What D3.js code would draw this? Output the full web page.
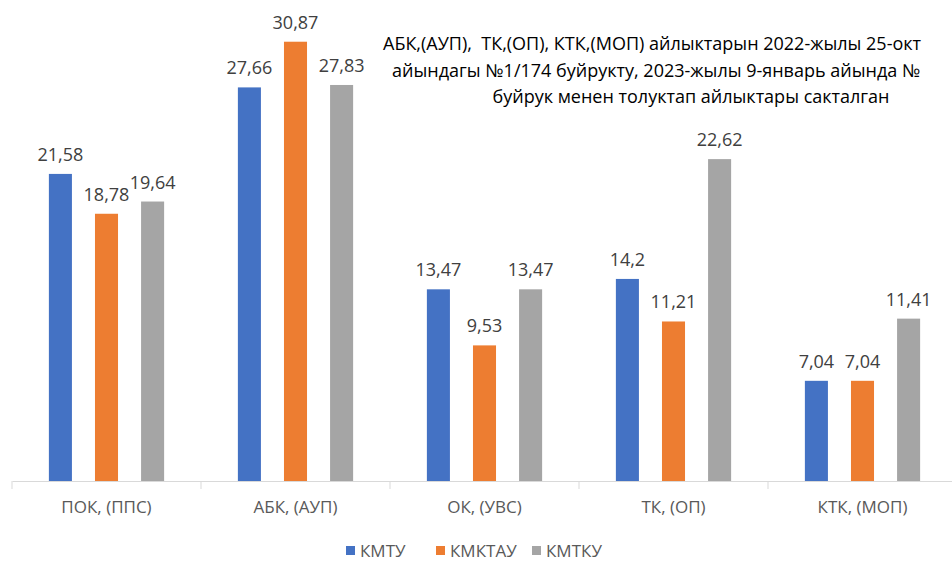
<!DOCTYPE html>
<html>
<head>
<meta charset="utf-8">
<script src="https://cdn.jsdelivr.net/npm/d3@7"></script>
<style>
	body { margin: 0; background: #fff; overflow: hidden; }
	svg { font-family: "Open Sans", sans-serif; }
</style>
</head>
<body>
<div id="chart"></div>
<script>
var categories = ["ПОК, (ППС)", "АБК, (АУП)", "ОК, (УВС)", "ТК, (ОП)", "КТК, (МОП)"];
var seriesNames = ["КМТУ", "КМКТАУ", "КМТКУ"];
var kmtu = [21.58, 27.66, 13.47, 14.2, 7.04];
var kmktau = [18.78, 30.87, 9.53, 11.21, 7.04];
var kmtku = [19.64, 27.83, 13.47, 22.62, 11.41];
// only the part of the title visible in the picture
var titleLines = [
	"АБК,(АУП),  ТК,(ОП), КТК,(МОП) айлыктарын 2022-жылы 25-окт",
	"айындагы №1/174 буйрукту, 2023-жылы 9-январь айында №",
	"буйрук менен толуктап айлыктары сакталган"
];

var width = 952;
var height = 564;
var baseY = 481;

var colors = ["#4472C4", "#ED7D31", "#A5A5A5"];
var seriesValues = [kmtu, kmktau, kmtku];

var svg = d3.select('#chart')
	.append('svg')
	.attr('width', width)
	.attr('height', height);

var x0 = d3.scaleBand()
	.domain(categories)
	.range([12, 12 + 5 * 189]);

var x1 = d3.scaleBand()
	.domain(seriesNames)
	.range([0, x0.bandwidth()])
	.paddingInner(0.5)
	.paddingOuter(0.8);

var y = d3.scaleLinear()
	.domain([0, 35])
	.range([baseY, baseY - 35 * 14.23]);

// axis
var xAxis = d3.axisBottom(x0).tickSize(0).tickFormat('');
var axisG = svg.append('g')
	.attr('transform', 'translate(0,' + baseY + ')')
	.call(xAxis);
axisG.select('.domain').attr('stroke', '#d9d9d9');

var bounds = categories.map(function(c) { return x0(c); });
svg.selectAll('.tick-mark')
	.data(bounds)
	.enter()
	.append('line')
	.attr('x1', function(d) { return d; })
	.attr('x2', function(d) { return d; })
	.attr('y1', baseY)
	.attr('y2', baseY + 8)
	.attr('stroke', '#d9d9d9');

svg.selectAll('.cat-label')
	.data(categories)
	.enter()
	.append('text')
	.attr('x', function(d) { return x0(d) + x0.bandwidth() / 2; })
	.attr('y', 513)
	.attr('text-anchor', 'middle')
	.attr('font-size', 17)
	.attr('fill', '#595959')
	.text(function(d) { return d; });

// bars
seriesNames.forEach(function(name, s) {
	var vals = seriesValues[s];
	var g = svg.append('g');
	g.selectAll('rect')
		.data(vals)
		.enter()
		.append('rect')
		.attr('x', function(d, i) { return x0(categories[i]) + x1(name); })
		.attr('y', function(d) { return y(d); })
		.attr('width', x1.bandwidth())
		.attr('height', function(d) { return baseY - y(d); })
		.attr('fill', colors[s]);

	g.selectAll('text')
		.data(vals)
		.enter()
		.append('text')
		.attr('x', function(d, i) { return x0(categories[i]) + x1(name) + x1.bandwidth() / 2; })
		.attr('y', function(d) { return y(d) - 13; })
		.attr('text-anchor', 'middle')
		.attr('font-size', 18)
		.attr('fill', '#404040')
		.text(function(d) { return String(d).replace('.', ','); });
});

// title (first two lines run off the right edge in the original)
var titleX = [383, 392, 691];
var titleAnchor = ['start', 'start', 'middle'];
svg.append('text')
	.attr('font-size', 18)
	.attr('fill', '#000')
	.style('white-space', 'pre')
	.selectAll('tspan')
	.data(titleLines)
	.enter()
	.append('tspan')
	.attr('x', function(d, i) { return titleX[i]; })
	.attr('y', function(d, i) { return 50 + i * 26.5; })
	.attr('text-anchor', function(d, i) { return titleAnchor[i]; })
	.text(function(d) { return d; });

// legend
var legendX = [346, 436, 532];
var legend = svg.selectAll('.legend')
	.data(seriesNames)
	.enter()
	.append('g')
	.attr('class', 'legend')
	.attr('transform', function(d, i) { return 'translate(' + legendX[i] + ',546)'; });

legend.append('rect')
	.attr('width', 9)
	.attr('height', 9)
	.attr('fill', function(d, i) { return colors[i]; });

legend.append('text')
	.attr('x', 14)
	.attr('y', 11)
	.attr('font-size', 17)
	.attr('fill', '#595959')
	.text(function(d) { return d; });
</script>
</body>
</html>
